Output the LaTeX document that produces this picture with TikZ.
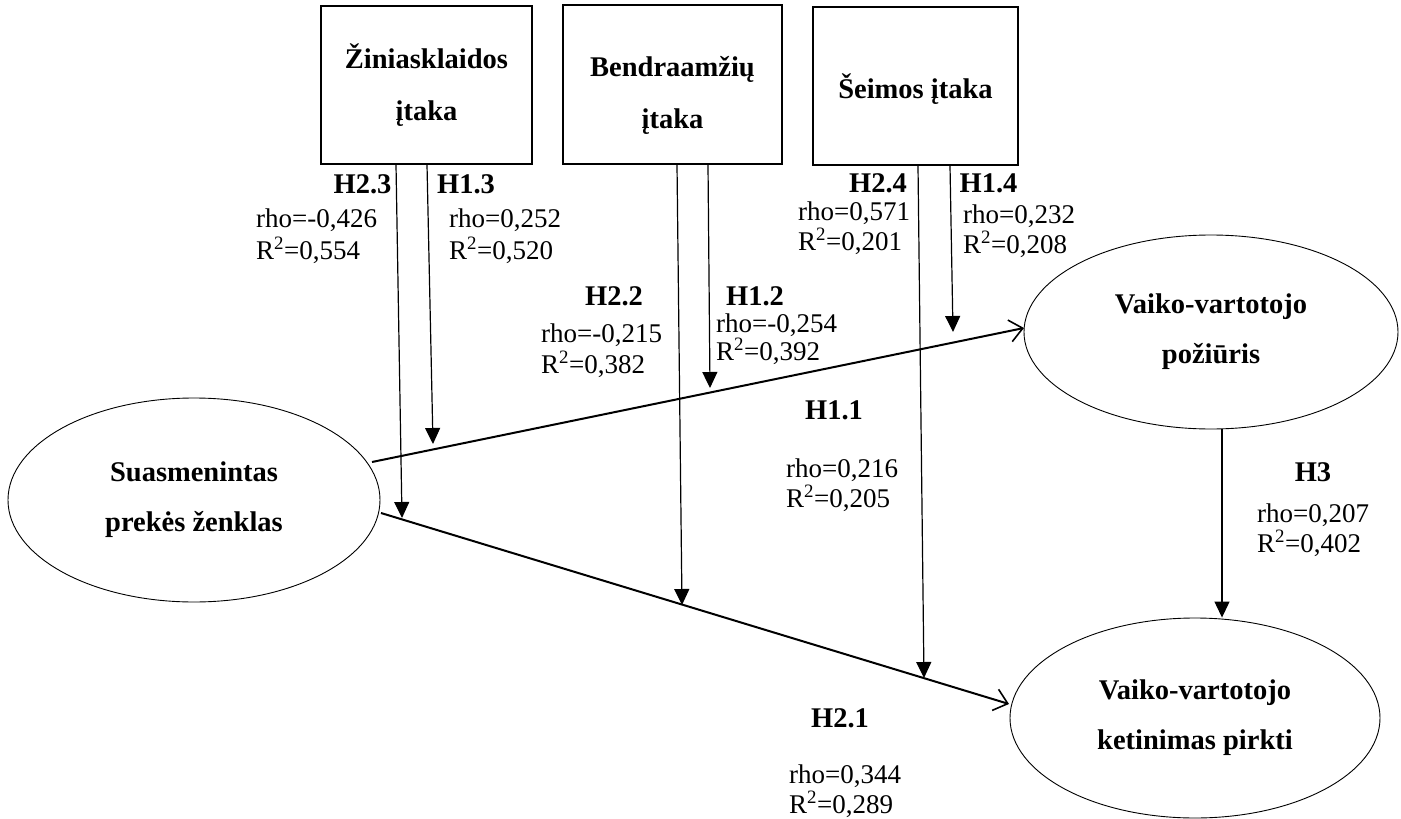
\documentclass[tikz,border=0pt]{standalone}
\usepackage{fontspec}
\setmainfont{Liberation Serif}
\usetikzlibrary{shapes.geometric,arrows.meta}
\begin{document}
\begin{tikzpicture}[x=1pt,y=-1pt,
  boxnode/.style={draw, line width=1.2pt, inner sep=0pt, align=center, font=\bfseries\fontsize{28.5}{52}\selectfont},
  ellnode/.style={draw, ellipse, line width=0.9pt, inner sep=0pt, align=center, font=\bfseries\fontsize{28.5}{50}\selectfont},
  hyp/.style={font=\bfseries\fontsize{28.5}{34}\selectfont, inner sep=0pt},
  stat/.style={font=\fontsize{27}{31}\selectfont, inner sep=0pt, anchor=base west},
  mainarrow/.style={line width=2pt, -{Straight Barb[length=13pt,width=22pt,line width=1.6pt]}},
  modarrow/.style={line width=1.2pt, -{Triangle[length=16pt,width=15pt]}},
]
\useasboundingbox (0,0) rectangle (1401,819);

% boxes
\node[boxnode, minimum width=211pt, minimum height=158pt] (zin) at (426.5,85) {Žiniasklaidos\\įtaka};
\node[boxnode, minimum width=219pt, minimum height=159pt] (ben) at (672.5,84.5) {\rule{0pt}{42pt}Bendraamžių\\įtaka};
\node[boxnode, minimum width=205pt, minimum height=158pt] (sei) at (915.5,86) {\rule{0pt}{30pt}Šeimos įtaka};

% ellipses
\node[ellnode, minimum width=372pt, minimum height=204pt] (sp) at (194,500) {Suasmenintas\\prekės ženklas};
\node[ellnode, minimum width=374pt, minimum height=194pt] (pz) at (1211,332) {Vaiko-vartotojo\\požiūris};
\node[ellnode, minimum width=370pt, minimum height=200pt] (kt) at (1195,718) {Vaiko-vartotojo\\ketinimas pirkti};

% main arrows
\draw[mainarrow] ([shift={(178,-38)}]sp.center) -- ([shift={(-187,-4)}]pz.center);
\draw[mainarrow] ([shift={(187,13)}]sp.center) -- ([shift={(-186,-14)}]kt.center);
\draw[modarrow] ([xshift=11pt]pz.south) -- ([xshift=27pt]kt.north);

% end points of moderator arrows
\coordinate (e23) at (402,518);
\coordinate (e13) at (433,444);
\coordinate (e22) at (682,605);
\coordinate (e12) at (710,388);
\coordinate (e24) at (924,678);
\coordinate (e14) at (953,332);

% moderator arrows
\draw[modarrow] ([xshift=-30.5pt]zin.south) -- (e23);
\draw[modarrow] ([xshift=0.5pt]zin.south) -- (e13);
\draw[modarrow] ([xshift=4.5pt]ben.south) -- (e22);
\draw[modarrow] ([xshift=35.5pt]ben.south) -- (e12);
\draw[modarrow] ([xshift=2.5pt]sei.south) -- (e24);
\draw[modarrow] ([xshift=34.5pt]sei.south) -- (e14);

% hypothesis labels
\node[hyp] (h23) at (362.5,184) {H2.3};
\node[hyp] (h13) at (466,184) {H1.3};
\node[hyp] (h22) at (614,296) {H2.2};
\node[hyp] (h12) at (755,296) {H1.2};
\node[hyp] (h24) at (878,183) {H2.4};
\node[hyp] (h14) at (988.5,183) {H1.4};
\node[hyp] (h11) at (834,410) {H1.1};
\node[hyp] (h3) at (1313,472) {H3};
\node[hyp] (h21) at (840,718) {H2.1};

% statistics
\node[stat] (r23) at (256,227) {rho=-0,426};
\node[stat] (q23) at (256,259) {R\textsuperscript{2}=0,554};
\node[stat] (r13) at (449,227) {rho=0,252};
\node[stat] (q13) at (449,259) {R\textsuperscript{2}=0,520};
\node[stat] (r24) at (798,220) {rho=0,571};
\node[stat] (q24) at (798,250) {R\textsuperscript{2}=0,201};
\node[stat] (r14) at (963,223) {rho=0,232};
\node[stat] (q14) at (963,253) {R\textsuperscript{2}=0,208};
\node[stat] (r22) at (541,342) {rho=-0,215};
\node[stat] (q22) at (541,373) {R\textsuperscript{2}=0,382};
\node[stat] (r12) at (716,332) {rho=-0,254};
\node[stat] (q12) at (716,360) {R\textsuperscript{2}=0,392};
\node[stat] (r11) at (786,477) {rho=0,216};
\node[stat] (q11) at (786,507) {R\textsuperscript{2}=0,205};
\node[stat] (r3) at (1257,522) {rho=0,207};
\node[stat] (q3) at (1257,552) {R\textsuperscript{2}=0,402};
\node[stat] (r21) at (789,783) {rho=0,344};
\node[stat] (q21) at (789,813) {R\textsuperscript{2}=0,289};
\end{tikzpicture}
\end{document}
